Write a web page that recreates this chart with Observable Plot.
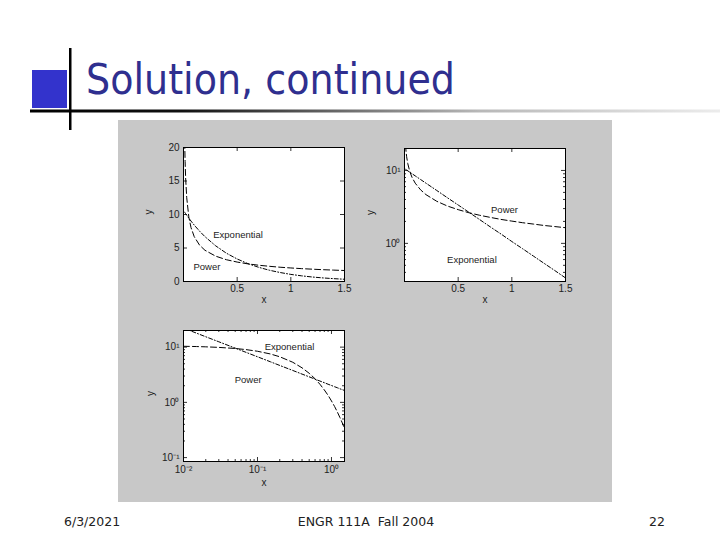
<!DOCTYPE html>
<html><head><meta charset="utf-8">
<script src="https://cdn.jsdelivr.net/npm/d3@7"></script>
<script src="https://cdn.jsdelivr.net/npm/@observablehq/plot@0.6"></script>
<style>
body{margin:0;background:#fff;}
#slide{position:relative;width:720px;height:540px;overflow:hidden;background:#fff;}
.panel{position:absolute;}
</style></head><body>
<div id="slide">
<svg id="deco" width="720" height="540" style="position:absolute;left:0;top:0">
  <defs>
    <linearGradient id="rule" x1="30" x2="720" y1="0" y2="0" gradientUnits="userSpaceOnUse">
      <stop offset="0" stop-color="#000"/>
      <stop offset="0.22" stop-color="#111"/>
      <stop offset="0.65" stop-color="#b8b8b8"/>
      <stop offset="1" stop-color="#ececec"/>
    </linearGradient>
  </defs>
  <rect x="118" y="120" width="494" height="382" fill="#c8c8c8"/>
  <rect x="32" y="70" width="35" height="38" fill="#3333cc"/>
  <rect x="30" y="109.5" width="690" height="3" fill="url(#rule)"/>
  <rect x="69" y="48" width="2.5" height="82" fill="#000"/>
  <text x="86" y="94" font-family="DejaVu Sans" font-size="42" fill="#2f2f8f" textLength="369" lengthAdjust="spacingAndGlyphs">Solution, continued</text>
  <text x="64" y="526" font-family="DejaVu Sans" font-size="12.5" fill="#222">6/3/2021</text>
  <text x="366" y="526" font-family="DejaVu Sans" font-size="12.5" fill="#222" text-anchor="middle" style="white-space:pre">ENGR 111A  Fall 2004</text>
  <text x="665" y="526" font-family="DejaVu Sans" font-size="12.5" fill="#222" text-anchor="end">22</text>
</svg>
<div class="panel" id="p1" style="left:140px;top:135px"></div>
<div class="panel" id="p2" style="left:360px;top:135px"></div>
<div class="panel" id="p3" style="left:140px;top:318px"></div>
</div>
<script>
// ---- data ----
const xs     = [0.01, 0.012, 0.015, 0.02, 0.03, 0.05, 0.07, 0.1, 0.15, 0.2, 0.3, 0.4, 0.5, 0.6, 0.7, 0.8, 0.9, 1.0, 1.1, 1.2, 1.3, 1.4, 1.5];
const powerY = [22.1, 20.1, 17.9, 15.4, 12.5, 9.59, 8.05, 6.69, 5.42, 4.66, 3.78, 3.25, 2.90, 2.63, 2.43, 2.27, 2.13, 2.02, 1.92, 1.84, 1.76, 1.70, 1.64];
const expY   = [10.36, 10.31, 10.24, 10.12, 9.89, 9.45, 9.02, 8.42, 7.51, 6.69, 5.32, 4.22, 3.36, 2.67, 2.12, 1.68, 1.34, 1.06, 0.845, 0.671, 0.533, 0.424, 0.336];

const linTicksX = [0.5, 1, 1.5];
const linTicksY = [0, 5, 10, 15, 20];
const semiMajorY = [1, 10];
const semiMinorY = [0.3, 0.4, 0.5, 0.6, 0.7, 0.8, 0.9, 2, 3, 4, 5, 6, 7, 8, 9, 20];
const logMajorX = [0.01, 0.1, 1];
const logMinorX = [0.02, 0.03, 0.04, 0.05, 0.06, 0.07, 0.08, 0.09, 0.2, 0.3, 0.4, 0.5, 0.6, 0.7, 0.8, 0.9];
const logMajorY = [0.1, 1, 10];
const logMinorY = [0.2, 0.3, 0.4, 0.5, 0.6, 0.7, 0.8, 0.9, 2, 3, 4, 5, 6, 7, 8, 9, 20];

const labels1 = [{text: "Exponential", x: 0.277, y: 6.97}, {text: "Power", x: 0.093, y: 2.13}];
const labels2 = [{text: "Power", x: 0.806, y: 2.91}, {text: "Exponential", x: 0.397, y: 0.60}];
const labels3 = [{text: "Exponential", x: 0.125, y: 10.2}, {text: "Power", x: 0.0492, y: 2.53}];

const powerData = xs.map((x, i) => ({x, y: powerY[i]}));
const expData = xs.map((x, i) => ({x, y: expY[i]}));

const supMap = {"-": "\u207B", "0": "\u2070", "1": "\u00B9", "2": "\u00B2"};
const pow10 = d => "10" + String(Math.round(Math.log10(d))).split("").map(c => supMap[c]).join("");
const plain = d => String(d);

const DASH = "6,3";
const DASHDOT = "4,2,1,2";

function inward(vals, axis, len, ih, iw) {
  if (!vals || !vals.length) return [];
  if (axis === "x") return [
    Plot.tickX(vals, {x: d => d, insetTop: ih - len, stroke: "#000", strokeWidth: 0.8}),
    Plot.tickX(vals, {x: d => d, insetBottom: ih - len, stroke: "#000", strokeWidth: 0.8})
  ];
  return [
    Plot.tickY(vals, {y: d => d, insetRight: iw - len, stroke: "#000", strokeWidth: 0.8}),
    Plot.tickY(vals, {y: d => d, insetLeft: iw - len, stroke: "#000", strokeWidth: 0.8})
  ];
}

function panel(o) {
  const ih = o.height - o.mt - o.mb, iw = o.width - o.ml - o.mr;
  const marks = [
    Plot.frame({fill: "white", stroke: "none"}),
    ...o.series.map(s => Plot.line(s.data, {x: "x", y: "y", stroke: "#000", strokeWidth: 1, strokeDasharray: s.dash, clip: true})),
    ...inward(o.xMajor, "x", 4, ih, iw),
    ...inward(o.xMinor, "x", 2, ih, iw),
    ...inward(o.yMajor, "y", 4, ih, iw),
    ...inward(o.yMinor, "y", 2, ih, iw),
    Plot.frame({stroke: "#000", strokeWidth: 1}),
    Plot.axisX({ticks: o.xMajor, tickSize: 0, tickPadding: o.xPad, tickFormat: o.xFmt, label: null, fill: "#222"}),
    Plot.axisY({ticks: o.yMajor, tickSize: 0, tickPadding: 4, tickFormat: o.yFmt, label: null, fill: "#222"}),
    Plot.text(["x"], {text: d => d, frameAnchor: "bottom", dy: o.xLabelDy, fill: "#222"}),
    Plot.text(["y"], {text: d => d, frameAnchor: "left", dx: o.yLabelDx, rotate: -90, fill: "#222"}),
    Plot.text(o.labels, {x: "x", y: "y", text: "text", textAnchor: "start", fontSize: 9.5, fill: "#222"})
  ];
  const chart = Plot.plot({
    width: o.width, height: o.height,
    marginTop: o.mt, marginRight: o.mr, marginBottom: o.mb, marginLeft: o.ml,
    x: o.x, y: o.y,
    style: {background: "transparent", fontFamily: "Liberation Sans, Arial, sans-serif", fontSize: "10px", color: "#222", overflow: "visible"},
    marks
  });
  document.getElementById(o.el).appendChild(chart);
}

panel({
  el: "p1", width: 215, height: 180, mt: 12, mr: 11, mb: 34, ml: 43,
  x: {type: "linear", domain: [0, 1.5]}, y: {type: "linear", domain: [0, 20]},
  xMajor: linTicksX, xMinor: [], yMajor: linTicksY, yMinor: [],
  xFmt: plain, yFmt: plain, xPad: 3,
  series: [{data: powerData, dash: DASH}, {data: expData, dash: DASHDOT}],
  labels: labels1, xLabelDy: 21, yLabelDx: -35
});

panel({
  el: "p2", width: 220, height: 180, mt: 13, mr: 15, mb: 34, ml: 44,
  x: {type: "linear", domain: [0, 1.5]}, y: {type: "log", domain: [0.3, 20]},
  xMajor: linTicksX, xMinor: [], yMajor: semiMajorY, yMinor: semiMinorY,
  xFmt: plain, yFmt: pow10, xPad: 3,
  series: [{data: powerData, dash: DASH}, {data: expData, dash: DASHDOT}],
  labels: labels2, xLabelDy: 21, yLabelDx: -34
});

panel({
  el: "p3", width: 215, height: 180, mt: 12, mr: 11, mb: 37, ml: 43,
  x: {type: "log", domain: [0.01, 1.5]}, y: {type: "log", domain: [0.085, 20]},
  xMajor: logMajorX, xMinor: logMinorX, yMajor: logMajorY, yMinor: logMinorY,
  xFmt: pow10, yFmt: pow10, xPad: 4,
  series: [{data: expData, dash: DASH}, {data: powerData, dash: DASHDOT}],
  labels: labels3, xLabelDy: 24, yLabelDx: -33
});
</script>
</body></html>
